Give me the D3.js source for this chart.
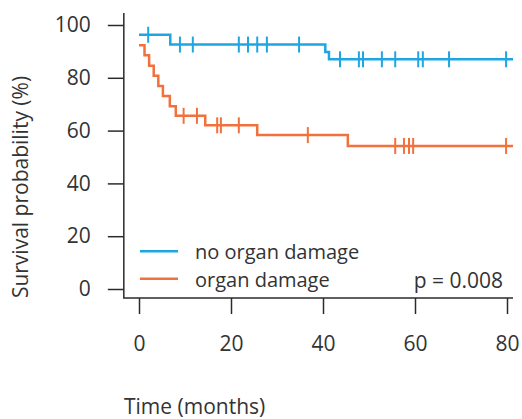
<!DOCTYPE html>
<html>
<head>
<meta charset="utf-8">
<script src="https://cdn.jsdelivr.net/npm/d3@7"></script>
<style>
  html, body { margin: 0; padding: 0; background: #fff; }
  svg { display: block; }
  text { font-family: "Open Sans", sans-serif; fill: #333; }
</style>
</head>
<body>
<svg id="chart" width="522" height="419"></svg>
<script>
// Kaplan-Meier steps: [time (months), survival (%)]
const noDamageSteps = [[0, 96.3], [6.8, 92.6], [40.5, 89.8], [41.3, 87.0], [81.3, 87.0]];
const damageSteps = [[0, 92.3], [1.2, 88.5], [2.2, 84.6], [3.2, 80.8], [4.2, 76.9], [5.2, 73.1],
                     [6.7, 69.2], [8.0, 65.6], [14.4, 62.0], [25.7, 58.3], [45.4, 54.2], [81.3, 54.2]];
// Censored observations (months)
const noDamageCensored = [2.0, 8.9, 11.7, 21.7, 23.7, 25.7, 27.8, 34.8, 43.7, 47.8, 48.7, 52.8, 55.7, 60.7, 61.7, 67.4, 79.8];
const damageCensored = [9.7, 12.6, 17.0, 17.8, 21.7, 36.7, 55.7, 57.6, 58.7, 59.6, 79.8];

const xTicks = [0, 20, 40, 60, 80];
const yTicks = [0, 20, 40, 60, 80, 100];
const seriesNames = ["no organ damage", "organ damage"];
const seriesColors = ["#1ea6e3", "#f2703c"];
const pValueText = "p = 0.008";

const fontSize = "21px";
const svg = d3.select("#chart");
const x = d3.scaleLinear().domain([0, 80]).range([139, 507]);
const y = d3.scaleLinear().domain([0, 100]).range([289, 25]);
const xFrame = [-3.3, 81.3];
const yFrame = [-3.4, 104.5];
const axisColor = "#2b2b2b";

// L-shaped frame
svg.append("path")
  .attr("d", `M${x(xFrame[0])},${y(yFrame[1])} V${y(yFrame[0])} H${x(xFrame[1])}`)
  .attr("fill", "none").attr("stroke", axisColor).attr("stroke-width", 1.5);

// Y axis
const yAxis = svg.append("g")
  .attr("transform", `translate(${x(xFrame[0])},0)`)
  .call(d3.axisLeft(y).tickValues(yTicks).tickSize(16).tickPadding(17).tickSizeOuter(0));
yAxis.select(".domain").remove();
yAxis.selectAll("line").attr("stroke", axisColor).attr("stroke-width", 1.5);
yAxis.selectAll("text").style("font-size", fontSize).attr("fill", "#333");

// X axis
const xAxis = svg.append("g")
  .attr("transform", `translate(0,${y(yFrame[0])})`)
  .call(d3.axisBottom(x).tickValues(xTicks).tickSize(16).tickPadding(22).tickSizeOuter(0));
xAxis.select(".domain").remove();
xAxis.selectAll("line").attr("stroke", axisColor).attr("stroke-width", 1.5);
xAxis.selectAll("text").style("font-size", fontSize).attr("fill", "#333");

// Axis titles
svg.append("text")
  .attr("x", 124).attr("y", 414)
  .style("font-size", fontSize)
  .text("Time (months)");
svg.append("text")
  .attr("transform", `translate(28,187) rotate(-90)`)
  .attr("text-anchor", "middle")
  .style("font-size", fontSize)
  .text("Survival probability (%)");

// Survival curves
const line = d3.line().x(d => x(d[0])).y(d => y(d[1])).curve(d3.curveStepAfter);
const series = [
  { steps: noDamageSteps, censored: noDamageCensored },
  { steps: damageSteps, censored: damageCensored }
];

function survivalAt(steps, t) {
  let s = steps[0][1];
  for (const [ts, v] of steps) { if (ts <= t) s = v; }
  return s;
}

series.forEach((s, i) => {
  svg.append("path")
    .attr("d", line(s.steps))
    .attr("fill", "none")
    .attr("stroke", seriesColors[i])
    .attr("stroke-width", 2.5);
  svg.append("g").selectAll("line")
    .data(s.censored)
    .join("line")
    .attr("x1", d => x(d)).attr("x2", d => x(d))
    .attr("y1", d => y(survivalAt(s.steps, d)) - 8)
    .attr("y2", d => y(survivalAt(s.steps, d)) + 8)
    .attr("stroke", seriesColors[i])
    .attr("stroke-width", 2);
});

// Legend
const legendTop = 251.3, legendGap = 27.4, legendFont = "20px";
const legend = svg.append("g");
seriesNames.forEach((name, i) => {
  const ly = legendTop + i * legendGap;
  legend.append("line")
    .attr("x1", 140).attr("x2", 178)
    .attr("y1", ly).attr("y2", ly)
    .attr("stroke", seriesColors[i]).attr("stroke-width", 2.5);
  legend.append("text")
    .attr("x", 195).attr("y", ly + 8)
    .style("font-size", legendFont)
    .text(name);
});

svg.append("text")
  .attr("x", 503).attr("y", 287.5)
  .attr("text-anchor", "end")
  .style("font-size", fontSize)
  .text(pValueText);
</script>
</body>
</html>
